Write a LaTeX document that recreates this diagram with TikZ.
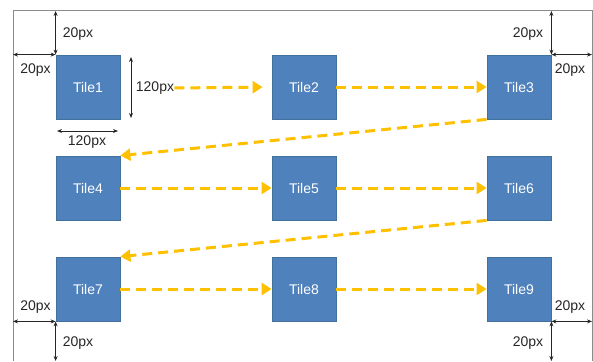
\documentclass[tikz,border=0pt]{standalone}
\usepackage{fontspec}
\setmainfont{Liberation Sans}
\usetikzlibrary{arrows.meta}
\definecolor{tileblue}{HTML}{4F81BD}
\definecolor{tileedge}{HTML}{41719C}
\definecolor{flow}{HTML}{FFC000}
\definecolor{framegray}{HTML}{8C8C8C}
\begin{document}
\begin{tikzpicture}[x=1pt,y=-1pt,
  tile/.style={draw=tileedge,line width=0.8pt,fill=tileblue,minimum size=64pt,inner sep=0pt,
    text=white,font=\fontsize{14}{16}\selectfont},
  lbl/.style={inner sep=0pt,font=\fontsize{14}{16}\selectfont,text=black!85},
  dim/.style={draw=black!85,line width=0.9pt,{Stealth[length=5pt,width=4pt]}-{Stealth[length=5pt,width=4pt]}},
  flowarrow/.style={draw=flow,line width=3pt,dash pattern=on 10pt off 6pt,
    -{Triangle[length=10pt,width=12pt]}}]
\useasboundingbox (0,0) rectangle (593,361);
% frame
\coordinate (ftl) at (13,11);
\coordinate (ftr) at (592,11);
\coordinate (fbl) at (13,361);
\coordinate (fbr) at (592,361);
\draw[framegray,line width=1pt] (fbl) -- (ftl) -- (ftr) -- (fbr);
% tiles
\node[tile] (t1) at (88,87) {Tile1};
\node[tile] (t2) at (304,87) {Tile2};
\node[tile] (t3) at (519,87) {Tile3};
\node[tile] (t4) at (88,188) {Tile4};
\node[tile] (t5) at (304,188) {Tile5};
\node[tile] (t6) at (519,188) {Tile6};
\node[tile] (t7) at (88,289) {Tile7};
\node[tile] (t8) at (304,289) {Tile8};
\node[tile] (t9) at (519,289) {Tile9};
% dimension arrows, corners
\draw[dim] (t1.north west) -- (t1.north west |- ftl);
\draw[dim] (t1.north west) -- (t1.north west -| ftl);
\draw[dim] (t3.north east) -- (t3.north east |- ftr);
\draw[dim] (t3.north east) -- (t3.north east -| ftr);
\draw[dim] (t7.south west) -- (t7.south west -| fbl);
\draw[dim] (t7.south west) -- (t7.south west |- fbl);
\draw[dim] (t9.south east) -- (t9.south east -| fbr);
\draw[dim] (t9.south east) -- (t9.south east |- fbr);
\node[lbl] (d1) at (78,34) {20px};
\node[lbl] (d2) at (35.5,70) {20px};
\node[lbl] (d3) at (528,34) {20px};
\node[lbl] (d4) at (570,70) {20px};
\node[lbl] (d5) at (35.5,307) {20px};
\node[lbl] (d6) at (78,343) {20px};
\node[lbl] (d7) at (570,307) {20px};
\node[lbl] (d8) at (528,343) {20px};
% tile size
\coordinate (vh1) at (131,57);
\coordinate (vh2) at (131,118);
\draw[dim] (vh1) -- (vh2);
\node[lbl] (h120) at (155,88) {120px};
\coordinate (hw1) at (57,131);
\coordinate (hw2) at (118,131);
\draw[dim] (hw1) -- (hw2);
\node[lbl] (w120) at (87,142) {120px};
% flow
\draw[flowarrow,shorten >=9pt] (h120.east) -- (t2.west);
\draw[flowarrow] (t2.east) -- (t3.west);
\draw[flowarrow] (t3.south west) -- (t4.north east);
\draw[flowarrow] (t4.east) -- (t5.west);
\draw[flowarrow] (t5.east) -- (t6.west);
\draw[flowarrow] (t6.south west) -- (t7.north east);
\draw[flowarrow] (t7.east) -- (t8.west);
\draw[flowarrow] (t8.east) -- (t9.west);
\end{tikzpicture}
\end{document}
